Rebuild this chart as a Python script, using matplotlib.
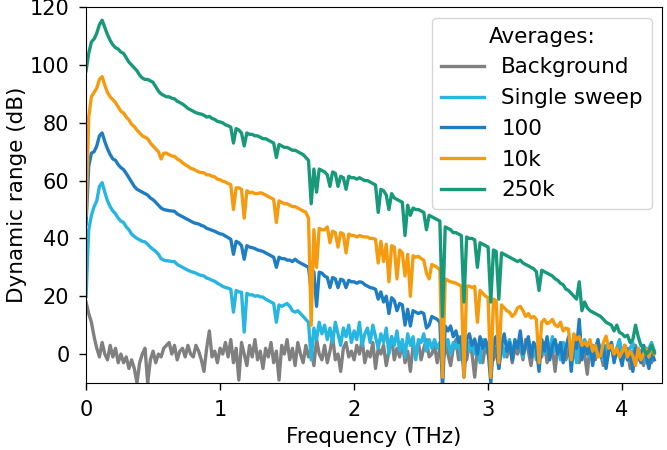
import matplotlib
matplotlib.use('Agg')
import matplotlib.pyplot as plt
import numpy as np

# frequency sampling (THz), 0.02 THz steps
freq = np.round(np.arange(0, 4.241, 0.02), 2)

# dynamic range values (dB), one row = 0.2 THz
background = [
    18, 14, 11, 6, 2, -1, 4, 0, -2, 3,
    -1, 2, -3, 0, -3, -1, -5, -2, -5, -10,
    -3, 0, 2, -10, -2, 1, -3, 0, -1, 2,
    3, 4, 0, 3, -2, 1, 2, -1, 3, 0,
    -1, 3, 1, -2, -6, 2, 8, -1, 1, -3,
    2, 0, 4, -1, 5, -3, 2, -9, 4, 0,
    -4, 3, -1, 5, -2, 1, -5, 2, -1, 4,
    -3, 1, -9, 3, 0, 5, -2, 2, -4, 4,
    0, -3, 3, -1, 2, -4, 5, 0, -2, 3,
    -3, 1, 6, -2, 0, -6, 2, 4, -1, 1,
    -2, 3, 0, 5, -3, 1, -1, 4, -5, 2,
    0, 3, -4, 1, 6, -2, 2, -1, 4, -3,
    1, -6, 3, 0, 4, -2, 2, 5, -1, 0,
    3, -3, 2, -1, 4, 0, -4, 2, 5, -2,
    1, 3, -2, 4, 0, -8, 2, 1, -3, 3,
    0, 4, -2, 2, -5, 3, 1, -1, 4, -3,
    2, 0, 3, -2, 5, 1, -4, 2, 0, 3,
    -1, 4, -3, 1, 2, -6, 3, 0, 4, -2,
    1, 3, -1, 5, -3, 2, 0, -7, 3, 1,
    -2, 4, 0, -4, 2, 1, 3, -2, 0, 4,
    -3, 1, 2, -5, 0, 3, -2, 1, -4, 2,
    0, -3, 1,
]

single_sweep = [
    20, 43, 48, 51, 53, 58, 59.3, 56, 53, 51,
    49.5, 48.5, 47, 46, 45.5, 44, 43, 41.5, 40.7, 40,
    39.5, 39, 38.8, 38, 37, 36.2, 35.5, 34.5, 33, 32.5,
    32.3, 32.2, 32, 32, 31, 30.5, 30, 29.5, 29, 28.6,
    28.3, 28, 27.5, 27.2, 27, 26.3, 26, 25.5, 25.2, 24.5,
    24, 23.4, 23, 22.8, 22.4, 14.5, 22, 21.5, 21.4, 7.6,
    21, 20.5, 20.5, 20, 20.2, 19.8, 19.7, 19, 18.5, 18,
    17.5, 11, 17, 16.5, 17, 17.5, 16.5, 15, 14.5, 15,
    14, 13, 12, 11, -2, 9, 5, 11, 7, 10,
    5, 9, 4, 11, 7, 3, 9, 6, 10, 4,
    8, 5, 11, 3, 7, 9, 4, 10, 6, 2,
    7, 4, 9, 0, 6, 3, 8, 1, 5, -1,
    7, 3, 6, -2, 5, 4, 7, 1, 5, 2,
    5, 2, 4, -4, 3, 5, 0, 4, 2, 6,
    -2, 3, 5, 1, 4, 0, 3, -3, 5, 2,
    4, -6, 3, 6, 1, 4, -1, 3, 5, 0,
    4, 2, 6, -1, 3, 5, 1, 4, -2, 3,
    5, 0, 4, 2, 6, 1, 3, -2, 4, 2,
    5, 0, 3, -3, 4, 1, 5, 2, -1, 3,
    0, 4, 2, -2, 3, 1, 4, -1, 2, 5,
    0, 3, -2, 2, 4, -1, 2, 0, 3, -3,
    2, 4, 1,
]

avg_100 = [
    45, 65, 69.5, 70, 72, 75.5, 76.5, 73.5, 71, 69,
    67.5, 67, 65.5, 64.5, 63.8, 62.5, 61, 59.5, 58, 57,
    56.5, 56, 55.5, 55, 54, 53.4, 52.5, 51.5, 50.5, 50,
    49.8, 49.6, 49.5, 49.4, 48.5, 48, 47.5, 47, 46.5, 46,
    45.5, 45.2, 45, 44.5, 44.2, 43.5, 43.2, 42.8, 42.5, 42,
    41.6, 41.4, 40.8, 40.3, 39.7, 34.5, 39, 38.5, 37.5, 32.8,
    37.5, 37, 36.8, 36.5, 36, 35.8, 35.5, 35, 34.5, 34,
    33.5, 30, 33.5, 33, 33, 32.5, 32.5, 32, 32.8, 32,
    31.5, 31, 30.5, 30, 22, 28.5, 16.5, 28.3, 28, 27,
    26.5, 23, 26.5, 26, 23, 25.9, 25.5, 23, 25.5, 25,
    25, 24.5, 25, 24.8, 24, 23.5, 23, 22.8, 22.4, 19,
    21.5, 18, 20, 14, 19.5, 18.5, 15, 17.5, 17, 10,
    15.5, 9.7, 15, 14.5, 14, 14.5, 14, 9, 10, 13,
    12.5, 12, 11, -12, 9.7, 8, 9.7, 6, 8, 4,
    6, -8, 5, 7, 3, 5.2, 0, 6, 2, 5,
    1, -10, 4, 6, -5, 3, 7, 1, 4, -2,
    5, 2, 8, 0, 3, 6, -1, 4, 2, -6,
    5, 1, 6, -2, 3, 5, 0, 4, -3, 2,
    6, -6, 4, 2, 12, -2, 4, 0, 3, -4,
    2, 5, -1, 3, -5, 1, 4, -3, 2, 0,
    -4, 3, -2, 1, -6, 2, 0, -3, 3, -1,
    -5, 1, -2,
]

avg_10k = [
    48, 82, 89, 90.5, 92, 95, 96, 93, 90.5, 89,
    88, 87, 85.5, 84, 83.4, 82, 81, 79.5, 78.7, 77.5,
    76.5, 75.5, 75, 74.5, 73, 72, 71, 70, 67.5, 69.5,
    69.5, 69, 68.5, 68.4, 67.5, 67, 66.2, 65.5, 65, 64.3,
    64, 63.5, 63, 62.8, 62.7, 62, 62, 61.5, 61.3, 60.5,
    60.3, 59.8, 59.5, 59, 58.6, 50, 57.5, 57.5, 57, 47,
    56.5, 55.8, 56, 55.5, 55.5, 55.8, 55.5, 55, 54.5, 54,
    53.5, 45.5, 53, 52.5, 52, 52, 51.5, 51, 51, 50.5,
    50, 49.5, 49, 47, 10, 43, 30, 43.5, 43, 43,
    44, 38.5, 42.5, 42, 37, 42, 41.5, 35, 41.5, 41,
    41, 40.5, 41, 40.7, 40.5, 40.5, 40, 40, 39.7, 31.5,
    39, 32, 38, 25, 37.5, 37, 26, 36, 35, 27,
    34.5, 20, 34, 33.5, 33.8, 33, 32.5, 28, 26, 31,
    30.5, 30, 29, -8, 26, 25.5, 25, 24.8, 24.5, 24,
    23.5, -8, 23.5, 23.5, 23, 23.4, 11, 22, 21, 20,
    19.5, -8, 19, 18.5, -3, 17, 16, 15, 14.5, 13,
    14, 16, 16.5, 15, 13, 14, 12.5, 13, 12, -3,
    11, 12, 10.5, 11, 12, 10, 9.5, 11, 8, 9,
    8.6, -2, 7, 5, 6, 3, 4, 2.8, 5, 1,
    3, -1, -0.6, 4, 6.2, 2, 3, 0, 2, -1,
    0.7, 3, -1, 1, -0.6, -4, 2, -2, 0, 1.7,
    -1, 2.8, 0,
]

avg_250k = [
    98, 104, 108, 109, 111, 114, 115.5, 113, 110.5, 108.5,
    107, 106, 105.5, 104.5, 104, 102.5, 101, 100, 99, 98,
    96.5, 95.5, 95, 95, 94.5, 94, 92.5, 91, 90, 89.5,
    89, 89, 88.5, 88.3, 87.5, 87, 86.5, 85.8, 85, 84.5,
    84, 83.5, 83.2, 83, 82.6, 82, 82.2, 81.5, 81.2, 80.5,
    80.3, 80, 79.3, 79, 78.5, 73, 78, 77.5, 76.5, 72,
    76.5, 76, 76, 75.5, 75.5, 75, 74.5, 74.5, 74, 73.5,
    73, 68, 72.5, 72, 71.5, 71.5, 71, 70.5, 70.5, 70,
    69.5, 69, 68, 67, 52, 64, 56, 64, 63.5, 63,
    62, 58, 63, 62.5, 58, 61.5, 61, 57, 61.5, 61,
    61, 60.5, 61, 60.5, 60, 60, 59.5, 59, 58.5, 49,
    57, 56.5, 55, 50, 55.5, 54, 53.5, 53, 52.5, 41,
    51.5, 48, 50.5, 50, 50, 49.5, 49, 43, 48, 47.5,
    47, 46.5, 46, 13, 44, 43.5, 43, 42, 42, 41.5,
    41, 18, 40.5, 40, 40, 39.5, 30, 38.5, 38, 37.5,
    37, 18, 36, 35.5, 19, 35, 34.5, 34, 33.5, 33,
    32.5, 32, 32.5, 31.5, 31, 30.5, 30, 29.5, 28.5, 22,
    29, 28.5, 28, 27.5, 27, 26, 25.5, 24.5, 24, 22.5,
    22, 21, 20, 19, 25, 15, 18, 16, 15, 14.5,
    14, 13.5, 13, 12, 11, 10.5, 10, 8, 10, 7.5,
    7, 6, 6.5, 4, 5, 10, 6, 3, 2, 0,
    1, 3, 0.5,
]

series = [background, single_sweep, avg_100, avg_10k, avg_250k]
labels = ['Background', 'Single sweep', '100', '10k', '250k']
colors = ['#808080', '#27b5e2', '#1f7ec1', '#f59b10', '#17997a']

plt.rcParams['font.size'] = 15.5

fig = plt.figure(figsize=(6.67, 4.5), dpi=100)
ax = fig.add_axes([0.129, 0.149, 0.864, 0.835])

for vals, lab, col in zip(series, labels, colors):
    ax.plot(freq, vals, color=col, lw=2.4, label=lab)

ax.set_xlim(0, 4.3)
ax.set_ylim(-10, 120)
ax.set_xticks([0, 1, 2, 3, 4])
ax.set_yticks([0, 20, 40, 60, 80, 100, 120])
ax.tick_params(labelsize=15, length=5, width=1, pad=7)
ax.set_xlabel('Frequency (THz)', labelpad=5)
ax.set_ylabel('Dynamic range (dB)', labelpad=2)

ax.legend(title='Averages:', loc='upper right', fontsize=15.5, title_fontsize=15.5)

fig.savefig('out.png', dpi=100)
